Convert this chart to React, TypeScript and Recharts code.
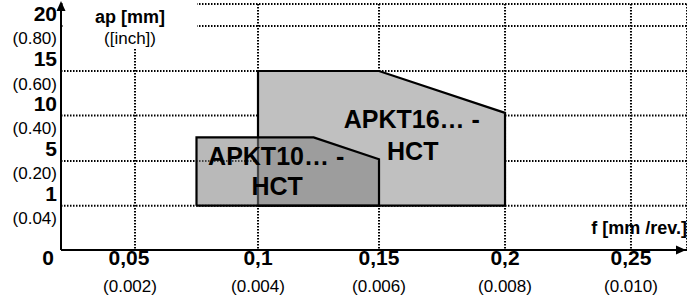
import React from 'react';
import { ComposedChart, Area, XAxis, YAxis, CartesianGrid, ReferenceDot } from 'recharts';

// ---- axis ticks and labels ----
const FEED_TICKS = [0, 0.05, 0.1, 0.15, 0.2, 0.25];
const FEED_LABELS = ['0', '0,05', '0,1', '0,15', '0,2', '0,25'];
const FEED_INCH = ['', '(0.002)', '(0.004)', '(0.006)', '(0.008)', '(0.010)'];
const AP_TICKS = [0, 1, 5, 10, 15, 20];
const AP_LABELS = ['', '1', '5', '10', '15', '20'];
const AP_INCH = ['', '(0.04)', '(0.20)', '(0.40)', '(0.60)', '(0.80)'];

// ---- application areas (polygon outlines, f [mm/rev], ap [mm]) ----
const APKT16_F = [0.1, 0.1, 0.15, 0.2, 0.2, 0.1];
const APKT16_AP = [1, 15, 15, 10.3, 1, 1];
const APKT10_F = [0.075, 0.075, 0.123, 0.15, 0.15, 0.075];
const APKT10_AP = [1, 7.6, 7.6, 5.2, 1, 1];

// ---- insert labels ----
const INSERT_NAMES = ['APKT16… -', 'APKT10… -'];
const INSERT_SUFFIX = 'HCT';
const LABEL_F = [0.163, 0.1075];
const LABEL_AP = [8, 4];

// relative position (0..1 of the axis length) of each tick value in the original drawing
const X_STOPS = [0, 0.1182, 0.3147, 0.508, 0.7093, 0.9105];
const Y_STOPS = [0, 0.1801, 0.3618, 0.5467, 0.7276, 0.9106];

const FONT = '"Liberation Sans", Arial, sans-serif';

function makeScale(vals: number[], stops: number[]): any {
  let dom: any[] = [vals[0], vals[vals.length - 1]];
  let rng: number[] = [0, 1];
  const frac = (v: number) => {
    const n = vals.length;
    let i = 0;
    if (v >= vals[n - 1]) i = n - 2;
    else if (v > vals[0]) {
      while (i < n - 2 && v > vals[i + 1]) i++;
    }
    const t = (v - vals[i]) / (vals[i + 1] - vals[i]);
    return stops[i] + t * (stops[i + 1] - stops[i]);
  };
  const s: any = (v: any) => {
    const n = Number(v);
    if (!isFinite(n)) return undefined;
    return rng[0] + (rng[1] - rng[0]) * frac(n);
  };
  s.domain = (d?: any) => {
    if (d === undefined) return dom.slice();
    dom = Array.from(d);
    return s;
  };
  s.range = (r?: any) => {
    if (r === undefined) return rng.slice();
    rng = Array.from(r) as number[];
    return s;
  };
  s.copy = () => makeScale(vals, stops).domain(dom).range(rng);
  s.ticks = () => vals.slice();
  s.tickFormat = () => (x: any) => String(x);
  s.nice = () => s;
  s.clamp = () => s;
  s.invert = (p: number) => {
    const t = (p - rng[0]) / (rng[1] - rng[0]);
    let i = 0;
    while (i < stops.length - 2 && t > stops[i + 1]) i++;
    return vals[i] + ((t - stops[i]) / (stops[i + 1] - stops[i])) * (vals[i + 1] - vals[i]);
  };
  return s;
}

const xScale = makeScale(FEED_TICKS, X_STOPS);
const yScale = makeScale(AP_TICKS, Y_STOPS);

const apkt16 = APKT16_F.map((f, i) => ({ f, ap: APKT16_AP[i] }));
const apkt10 = APKT10_F.map((f, i) => ({ f, ap: APKT10_AP[i] }));

const XTick = (props: any) => {
  const { x, y, payload } = props;
  const i = FEED_TICKS.indexOf(payload.value);
  if (i < 0) return null;
  if (i === 0) {
    return (
      <text x={x - 13} y={y + 15} textAnchor="middle" fontFamily={FONT} fontWeight="bold" fontSize={21} fill="#000">
        {FEED_LABELS[0]}
      </text>
    );
  }
  return (
    <g>
      <text x={x - (i === 1 ? 6 : 0)} y={y + 15} textAnchor="middle" fontFamily={FONT} fontWeight="bold" fontSize={21} fill="#000">
        {FEED_LABELS[i]}
      </text>
      <text x={x - (i === 1 ? 5 : 0)} y={y + 41.5} textAnchor="middle" fontFamily={FONT} fontSize={17} fill="#000">
        {FEED_INCH[i]}
      </text>
    </g>
  );
};

const YTick = (props: any) => {
  const { x, y, payload } = props;
  const i = AP_TICKS.indexOf(payload.value);
  if (i <= 0) return null;
  return (
    <g>
      <text x={x - 4} y={y - 5} textAnchor="end" fontFamily={FONT} fontWeight="bold" fontSize={21} fill="#000">
        {AP_LABELS[i]}
      </text>
      <text x={x - 4} y={y + 18.5} textAnchor="end" fontFamily={FONT} fontSize={17} fill="#000">
        {AP_INCH[i]}
      </text>
    </g>
  );
};

const YDecor = (props: any) => {
  const vb = props.viewBox || { x: 0, y: 4, width: 61, height: 246 };
  const ax = vb.x + vb.width;
  const top = vb.y;
  return (
    <g>
      <rect x={ax + 2} y={0} width={134} height={top + 44} fill="#fff" />
      <text x={ax + 69} y={top + 19} textAnchor="middle" fontFamily={FONT} fontWeight="bold" fontSize={18} fill="#000">
        ap [mm]
      </text>
      <text x={ax + 69} y={top + 40} textAnchor="middle" fontFamily={FONT} fontSize={17} fill="#000">
        ([inch])
      </text>
      <polygon points={`${ax},${top - 3} ${ax - 4.5},${top + 7} ${ax + 4.5},${top + 7}`} fill="#000" />
    </g>
  );
};

const XDecor = (props: any) => {
  const vb = props.viewBox || { x: 61, y: 250, width: 626, height: 50 };
  const right = vb.x + vb.width;
  const ay = vb.y;
  return (
    <g>
      <text x={right} y={ay - 16} textAnchor="end" fontFamily={FONT} fontWeight="bold" fontSize={18} fill="#000">
        f [mm /rev.]
      </text>
      <polygon points={`${right - 1},${ay} ${right - 11},${ay - 4.5} ${right - 11},${ay + 4.5}`} fill="#000" />
    </g>
  );
};

const makeLabelShape = (idx: number, gap: number, up: number) => (p: any) => {
  const { cx, cy } = p;
  return (
    <g>
      <text x={cx} y={cy - up} textAnchor="middle" fontFamily={FONT} fontWeight="bold" fontSize={25} fill="#000">
        {INSERT_NAMES[idx]}
      </text>
      <text x={cx + 1} y={cy - up + gap} textAnchor="middle" fontFamily={FONT} fontWeight="bold" fontSize={25} fill="#000">
        {INSERT_SUFFIX}
      </text>
    </g>
  );
};

export default function App() {
  return (
    <div style={{ position: 'absolute', left: 0, top: 0, width: 687, height: 300, background: '#fff' }}>
      <ComposedChart width={687} height={300} margin={{ top: 4, right: 0, bottom: 0, left: 0 }}>
        <CartesianGrid stroke="#000" strokeWidth={2} strokeDasharray="1.5 1.5" />
        <XAxis
          dataKey="f"
          type="number"
          scale={xScale}
          domain={[0, 0.27]}
          allowDataOverflow
          ticks={FEED_TICKS}
          interval={0}
          height={50}
          tickLine={false}
          tickSize={0}
          tickMargin={0}
          tick={<XTick />}
          axisLine={{ stroke: '#000', strokeWidth: 2 }}
          label={<XDecor />}
        />
        <YAxis
          dataKey="ap"
          type="number"
          scale={yScale}
          domain={[0, 22.4]}
          allowDataOverflow
          ticks={AP_TICKS}
          interval={0}
          width={61}
          tickLine={false}
          tickSize={0}
          tickMargin={0}
          tick={<YTick />}
          axisLine={{ stroke: '#000', strokeWidth: 2 }}
          label={<YDecor />}
        />
        <Area
          data={apkt16}
          dataKey="ap"
          type="linear"
          baseValue={1}
          fill="#c0c0c0"
          fillOpacity={1}
          stroke="#000"
          strokeWidth={2.2}
          dot={false}
          activeDot={false}
          isAnimationActive={false}
        />
        <Area
          data={apkt10}
          dataKey="ap"
          type="linear"
          baseValue={1}
          fill="#7f7f7f"
          fillOpacity={0.55}
          stroke="#000"
          strokeWidth={2.2}
          dot={false}
          activeDot={false}
          isAnimationActive={false}
        />
        <ReferenceDot x={LABEL_F[0]} y={LABEL_AP[0]} r={0} shape={makeLabelShape(0, 32, 6)} />
        <ReferenceDot x={LABEL_F[1]} y={LABEL_AP[1]} r={0} shape={makeLabelShape(1, 30, 7)} />
      </ComposedChart>
    </div>
  );
}
